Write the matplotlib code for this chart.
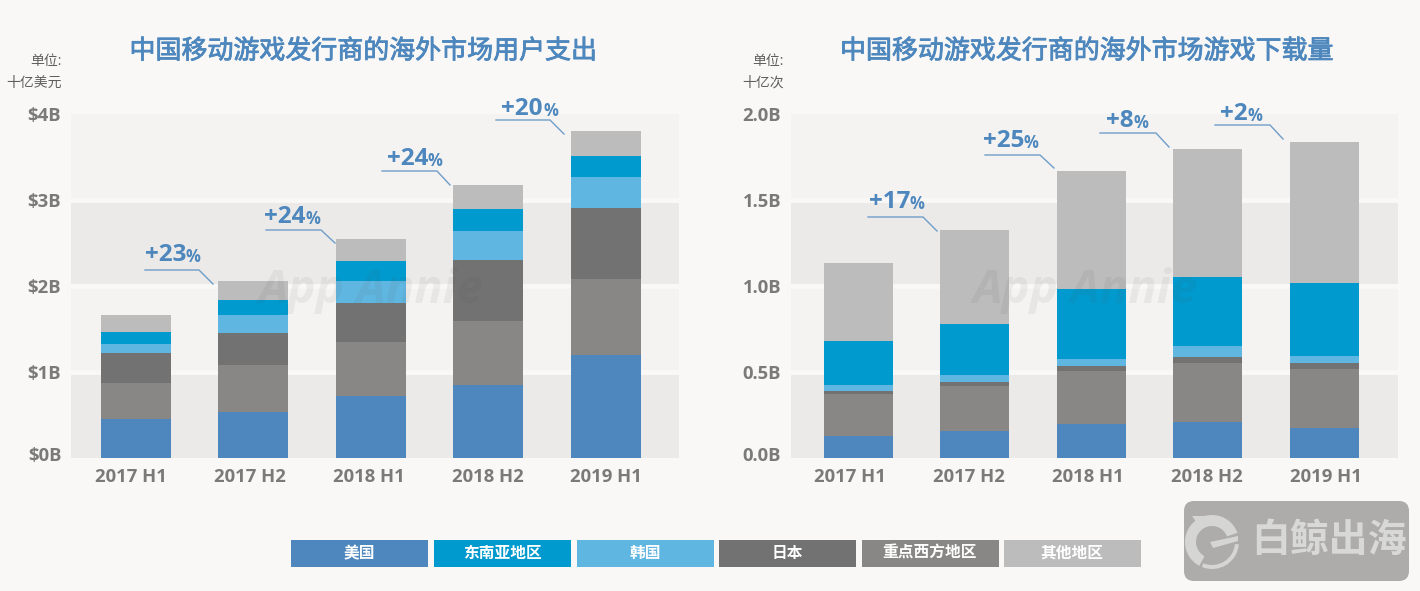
"""Chinese mobile game publishers overseas: spend and downloads, stacked by region."""
import matplotlib
matplotlib.use('Agg')
import matplotlib.pyplot as plt
import matplotlib.patheffects as pe
from matplotlib.patches import FancyBboxPatch, Polygon, Rectangle, Wedge
from matplotlib.transforms import ScaledTranslation

plt.rcParams['font.family'] = ['Open Sans', 'Noto Sans CJK SC', 'DejaVu Sans']

periods = ['2017 H1', '2017 H2', '2018 H1', '2018 H2', '2019 H1']
regions = ['美国', '重点西方地区', '日本', '韩国', '东南亚地区', '其他地区']
legend_order = ['美国', '东南亚地区', '韩国', '日本', '重点西方地区', '其他地区']

# segment heights per region
spend_us = [0.45, 0.535, 0.72, 0.85, 1.20]
spend_west = [0.42, 0.545, 0.63, 0.74, 0.88]
spend_jp = [0.35, 0.37, 0.45, 0.71, 0.83]
spend_kr = [0.105, 0.21, 0.26, 0.34, 0.36]
spend_sea = [0.14, 0.18, 0.23, 0.26, 0.24]
spend_other = [0.195, 0.22, 0.26, 0.27, 0.29]

dl_us = [0.13, 0.155, 0.20, 0.21, 0.175]
dl_west = [0.24, 0.265, 0.305, 0.345, 0.345]
dl_jp = [0.02, 0.02, 0.03, 0.035, 0.035]
dl_kr = [0.035, 0.04, 0.04, 0.06, 0.04]
dl_sea = [0.255, 0.30, 0.405, 0.40, 0.425]
dl_other = [0.452, 0.545, 0.69, 0.745, 0.815]

spend_growth = ['+23', '+24', '+24', '+20']
dl_growth = ['+17', '+25', '+8', '+2']

spend_ticks = ['$0B', '$1B', '$2B', '$3B', '$4B']
dl_ticks = ['0.0B', '0.5B', '1.0B', '1.5B', '2.0B']

colors = {'美国': '#4d87bd', '重点西方地区': '#888785', '日本': '#727272',
          '韩国': '#5fb6e0', '东南亚地区': '#009ace', '其他地区': '#bcbcbc'}

BLUE = '#4d87bd'
GREY = '#7a7a7a'
BG = '#f9f8f6'
LOGO = '#d5d5d3'
W, H = 1420, 591

fig = plt.figure(figsize=(W / 100, H / 100), dpi=100, facecolor=BG)


def draw_chart(left, right, first_bar, step, bar_w, tick_px, ymax, ticks, series):
    ax = fig.add_axes([left / W, 1 - 458 / H, (right - left) / W, (458 - 114) / H])
    ax.set_facecolor(BG)
    ax.set_xlim((left - first_bar) / step, (right - first_bar) / step)
    ax.set_ylim(0, ymax)
    unit = ymax / 4
    for i in range(4):
        ax.axhspan(i * unit, (i + 1) * unit, color='#ebeae8' if i % 2 == 0 else '#f4f3f1', lw=0, zorder=0)
        if i:
            ax.axhline(i * unit, color='#f9f8f6', lw=3.5, zorder=1)
    bottom = [0] * len(periods)
    for region, vals in zip(regions, series):
        ax.bar(range(len(periods)), vals, bar_w / step, bottom=bottom, color=colors[region], zorder=2)
        bottom = [b + v for b, v in zip(bottom, vals)]
    ax.set_xticks([(p - first_bar) / step for p in tick_px], periods, fontsize=13.3,
                  fontweight='bold', color=GREY)
    ax.set_yticks([i * unit for i in range(5)], ticks, fontsize=13.3, fontweight='bold', color=GREY)
    ax.tick_params(length=0)
    ax.tick_params(axis='x', pad=7)
    ax.tick_params(axis='y', pad=7)
    # the bottom label sits a little above its band edge
    for tick in ax.yaxis.get_major_ticks()[:1]:
        tick.label1.set_transform(tick.label1.get_transform() + ScaledTranslation(0, 3 / 72, fig.dpi_scale_trans))
    for s in ax.spines.values():
        s.set_visible(False)
    return ax


draw_chart(71, 679, 136, 117.4, 70, [131, 250, 369, 488, 606], 4, spend_ticks,
           [spend_us, spend_west, spend_jp, spend_kr, spend_sea, spend_other])
draw_chart(791, 1398, 858.5, 116.4, 69, [850, 969, 1088, 1207, 1326], 2, dl_ticks,
           [dl_us, dl_west, dl_jp, dl_kr, dl_sea, dl_other])

# overlay in pixel coordinates for titles, callouts, legend and logo
ov = fig.add_axes([0, 0, 1, 1], zorder=5)
ov.set_xlim(0, W)
ov.set_ylim(H, 0)
ov.axis('off')

heavy = [pe.withStroke(linewidth=0.6, foreground=BLUE)]
ov.text(363.5, 52, '中国移动游戏发行商的海外市场用户支出', fontsize=18.7,
        color=BLUE, ha='center', va='center', path_effects=heavy)
ov.text(1087, 52, '中国移动游戏发行商的海外市场游戏下载量', fontsize=18.7,
        color=BLUE, ha='center', va='center', path_effects=heavy)

for x, unit_text in [(62, '十亿美元'), (784, '十亿次')]:
    ov.text(x, 62, '单位:', fontsize=10, color='#5f5f5f', ha='right', va='center')
    ov.text(x, 83, unit_text, fontsize=10, color='#5f5f5f', ha='right', va='center')

# callouts: line start, elbow, end, text centre
callouts = [
    (145, 199, 270, 213, 284, 173, 256), (266, 321, 230, 335, 243, 292, 218),
    (382, 437, 171, 450, 185, 415, 160), (496, 550, 120, 564, 134, 530, 110),
    (868, 923, 217, 937, 231, 897, 203), (985, 1040, 155, 1054, 168, 1011, 142),
    (1100, 1156, 133, 1169, 147, 1121, 122), (1215, 1270, 125, 1283, 139, 1235, 115),
]
for label, (x0, x1, y1, x2, y2, tx, ty) in zip(spend_growth + dl_growth, callouts):
    ov.plot([x0, x1, x2], [y1, y1, y2], color='#6f9dc9', lw=1)
    ov.text(tx + 13, ty - 1, label, fontsize=17.5, fontweight='bold', color=BLUE, ha='right', va='center')
    ov.text(tx + 13, ty + 1, '%', fontsize=12, fontweight='bold', color=BLUE, ha='left', va='center')

# App Annie watermark
for x in (371, 1085):
    ov.text(x, 290, 'App Annie', fontsize=34, style='italic', fontweight='bold', color='#555555',
            alpha=0.08, ha='center', va='center')

# legend
legend_x = [291, 434, 577, 719, 862, 1004]
for x, name in zip(legend_x, legend_order):
    ov.add_patch(Rectangle((x, 540), 137, 27, color=colors[name], lw=0))
    ov.text(x + 68, 554, name, fontsize=11.3, fontweight='bold', color='white', ha='center', va='center')

# logo
ov.add_patch(FancyBboxPatch((1190, 507), 213, 68, boxstyle='round,pad=6,rounding_size=10',
                            color='#adacaa', lw=0))
ov.add_patch(Wedge((1212, 542), 27, 5, 112, width=4, color=LOGO, lw=0))
ov.add_patch(Wedge((1212, 542), 27, 118, 340, width=11, color=LOGO, lw=0))
ov.add_patch(Polygon([(1210, 542), (1238, 536), (1238, 541), (1213, 548)], color=LOGO, lw=0))
ov.add_patch(Polygon([(1192, 516), (1208, 516), (1200, 527)], color=LOGO, lw=0))
ov.text(1329, 541, '白鲸出海', fontsize=28, fontweight='bold', color='#d8d8d6', ha='center', va='center')

fig.savefig('out.png', dpi=100, facecolor=BG)
